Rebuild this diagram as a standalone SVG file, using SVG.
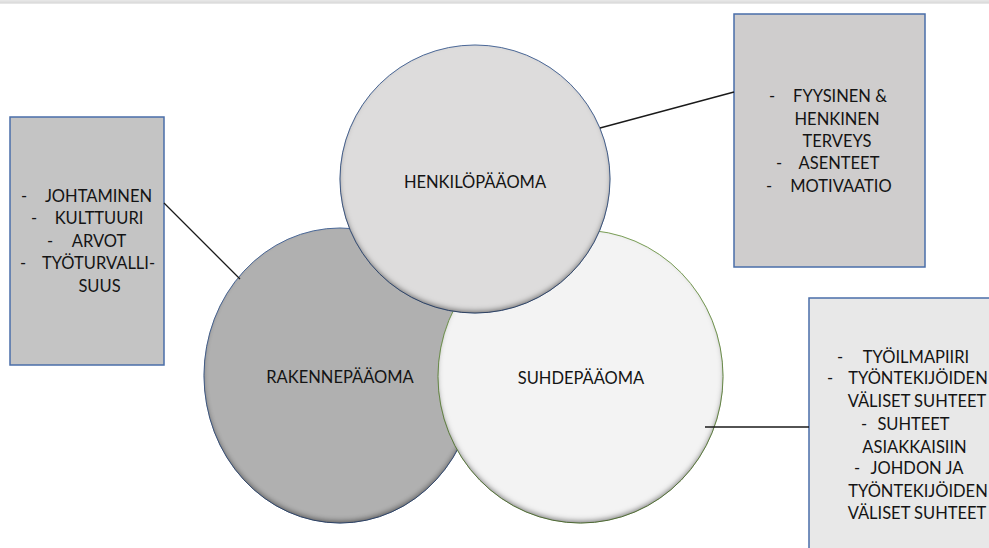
<svg xmlns="http://www.w3.org/2000/svg" width="989" height="548" viewBox="0 0 989 548">
  <defs>
    <style>
      .box { stroke: #4a6ea9; stroke-width: 1.5; }
      .lbl { font-family: Lato, "Liberation Sans", sans-serif; font-size: 16.5px; fill: #141414; }
      .mid { text-anchor: middle; }
      .conn { stroke: #1a1a1a; stroke-width: 1.3; fill: none; }
    </style>
    <!-- soft inner shadow along the lower rim of each circle -->
    <filter id="rim" x="-5%" y="-5%" width="110%" height="110%">
      <feFlood flood-color="#000" flood-opacity="0.75" result="f"/>
      <feComposite in="f" in2="SourceAlpha" operator="out" result="outside"/>
      <feGaussianBlur in="outside" stdDeviation="2.5" result="b"/>
      <feOffset in="b" dx="0" dy="-3.5" result="o"/>
      <feComposite in="o" in2="SourceAlpha" operator="in" result="inner"/>
      <feMerge>
        <feMergeNode in="SourceGraphic"/>
        <feMergeNode in="inner"/>
      </feMerge>
    </filter>
  </defs>

  <rect x="0" y="0" width="989" height="548" fill="#ffffff"/>
  <!-- top rule -->
  <rect x="0" y="0" width="989" height="4" fill="#e6e6e6"/>
  <rect x="0" y="1.5" width="989" height="1.5" fill="#dcdcdc"/>

  <!-- circles -->
  <g id="rakennepaaoma">
    <ellipse cx="340" cy="375.5" rx="136" ry="147.5" fill="#b0b0b0" stroke="#4f6c9c" stroke-width="1" filter="url(#rim)"/>
    <text class="lbl mid" x="340" y="383">RAKENNEPÄÄOMA</text>
  </g>
  <g id="suhdepaaoma">
    <ellipse cx="580.5" cy="376.5" rx="142.5" ry="146.5" fill="#f3f3f3" stroke="#7ea35a" stroke-width="1" filter="url(#rim)"/>
    <text class="lbl mid" x="581" y="384">SUHDEPÄÄOMA</text>
  </g>
  <g id="henkilopaaoma">
    <ellipse cx="475" cy="179" rx="135" ry="134" fill="#dddcdc" stroke="#4f6c9c" stroke-width="1" filter="url(#rim)"/>
    <text class="lbl mid" x="475" y="188">HENKILÖPÄÄOMA</text>
  </g>

  <!-- side boxes -->
  <g id="box-rakenne">
    <rect class="box" x="10" y="117" width="154" height="248" fill="#c4c4c4"/>
    <text class="lbl" x="21" y="202">-</text>
    <text class="lbl mid" x="98.5" y="202">JOHTAMINEN</text>
    <text class="lbl" x="31" y="224">-</text>
    <text class="lbl mid" x="99" y="224">KULTTUURI</text>
    <text class="lbl" x="47" y="247">-</text>
    <text class="lbl mid" x="99" y="247">ARVOT</text>
    <text class="lbl" x="20" y="269">-</text>
    <text class="lbl mid" x="98.5" y="269">TYÖTURVALLI-</text>
    <text class="lbl mid" x="99.5" y="292">SUUS</text>
  </g>

  <g id="box-henkilo">
    <rect class="box" x="734" y="14" width="191" height="253" fill="#cfcdcd"/>
    <text class="lbl" x="769" y="102">-</text>
    <text class="lbl mid" x="840" y="102">FYYSINEN &amp;</text>
    <text class="lbl mid" x="837" y="125">HENKINEN</text>
    <text class="lbl mid" x="837" y="147">TERVEYS</text>
    <text class="lbl" x="776" y="169">-</text>
    <text class="lbl mid" x="839" y="169">ASENTEET</text>
    <text class="lbl" x="766" y="192">-</text>
    <text class="lbl mid" x="841" y="192">MOTIVAATIO</text>
  </g>

  <g id="box-suhde">
    <rect class="box" x="809" y="298" width="190" height="260" fill="#e8e8e8"/>
    <text class="lbl" x="837" y="363">-</text>
    <text class="lbl mid" x="916" y="363">TYÖILMAPIIRI</text>
    <text class="lbl" x="827" y="384">-</text>
    <text class="lbl mid" x="918" y="384">TYÖNTEKIJÖIDEN</text>
    <text class="lbl mid" x="917" y="407">VÄLISET SUHTEET</text>
    <text class="lbl" x="861" y="430">-</text>
    <text class="lbl mid" x="913.5" y="430">SUHTEET</text>
    <text class="lbl mid" x="914.5" y="453">ASIAKKAISIIN</text>
    <text class="lbl" x="854" y="474">-</text>
    <text class="lbl mid" x="917" y="474">JOHDON JA</text>
    <text class="lbl mid" x="918" y="497">TYÖNTEKIJÖIDEN</text>
    <text class="lbl mid" x="917" y="519">VÄLISET SUHTEET</text>
  </g>

  <!-- connectors -->
  <g id="connectors">
    <line class="conn" x1="164" y1="203" x2="240" y2="279"/>
    <line class="conn" x1="600" y1="128" x2="734" y2="92"/>
    <line class="conn" x1="705" y1="427" x2="809" y2="427"/>
  </g>
</svg>
